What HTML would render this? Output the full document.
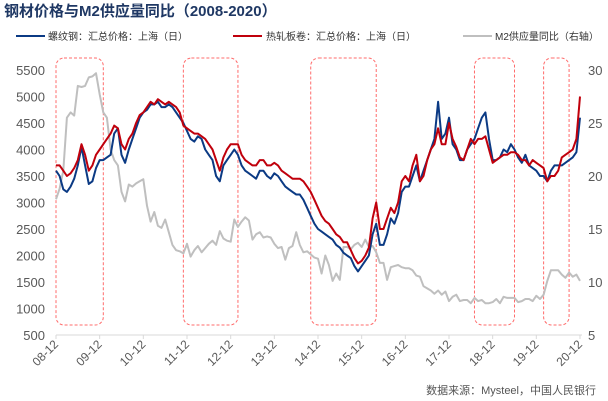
<!DOCTYPE html>
<html><head><meta charset="utf-8">
<style>
body{margin:0;background:#fff;}
svg{display:block;font-family:"Liberation Sans","Noto Sans CJK SC",sans-serif;}
</style></head>
<body>
<svg id="chart" width="608" height="401" viewBox="0 0 608 401">
<text x="4" y="16" font-size="15" font-weight="bold" fill="#1f3864">钢材价格与M2供应量同比（2008-2020）</text>
<g font-size="10" fill="#333">
<g><line x1="16" y1="36" x2="45" y2="36" stroke="#0b3a84" stroke-width="2"/><text x="48" y="40">螺纹钢：汇总价格：上海（日）</text></g>
<g><line x1="233" y1="36" x2="262" y2="36" stroke="#c0000c" stroke-width="2"/><text x="266" y="40">热轧板卷：汇总价格：上海（日）</text></g>
<g><line x1="463" y1="36" x2="492" y2="36" stroke="#bfbfbf" stroke-width="2"/><text x="495" y="40">M2供应量同比（右轴）</text></g>
</g>
<g id="boxes"></g>
<g id="axes"></g>
<g id="series"></g>
<text x="596" y="394" font-size="11" fill="#555" text-anchor="end">数据来源：Mysteel，中国人民银行</text>
</svg>
<script>
const xLabels=["08-12","09-12","10-12","11-12","12-12","13-12","14-12","15-12","16-12","17-12","18-12","19-12","20-12"];
const leftTicks=[500,1000,1500,2000,2500,3000,3500,4000,4500,5000,5500];
const rightTicks=[5,10,15,20,25,30];
const rebar=[3600,
3500,3250,3200,3300,3450,3700,4050,3700,3350,3400,3650,3800,
3800,3850,3900,4300,4400,3900,3750,4000,4200,4400,4600,4700,
4750,4850,4850,4900,4800,4800,4850,4800,4700,4600,4500,4350,
4200,4150,4250,4200,4000,3900,3800,3500,3400,3700,3800,3900,
4000,3900,3700,3600,3550,3500,3450,3600,3600,3500,3450,3550,
3500,3400,3300,3250,3200,3150,3150,3050,2900,2750,2600,2500,
2450,2400,2350,2300,2200,2150,2050,2000,1950,1800,1700,1800,
1900,2000,2400,2600,2200,2200,2400,2700,2600,2800,3200,3300,
3300,3500,3700,3400,3600,3800,4000,4200,4900,4200,4300,4600,
4100,4000,3800,3800,4000,4100,4200,4400,4600,4700,4200,3800,
3800,3850,4000,3950,4100,4000,3850,3750,3900,3700,3650,3600,
3500,3500,3400,3600,3700,3700,3700,3750,3800,3850,3950,4600];
const hrc=[3700,
3700,3600,3500,3550,3650,3800,4100,3900,3600,3700,3900,4000,
4100,4200,4300,4450,4400,4100,4000,4200,4300,4500,4650,4700,
4800,4900,4850,4950,4900,4850,4900,4850,4800,4700,4450,4400,
4350,4300,4300,4250,4200,4100,4000,3800,3600,3850,4000,4100,
4100,4100,3900,3800,3750,3700,3700,3800,3800,3700,3700,3750,
3700,3600,3550,3500,3450,3450,3450,3400,3300,3200,3050,2900,
2750,2650,2600,2500,2400,2350,2250,2250,2100,1950,1850,1900,
2000,2150,2700,3000,2500,2500,2700,2900,2800,3000,3400,3500,
3400,3700,3900,3400,3500,3800,4000,4100,4400,4100,4100,4500,
4200,4050,3850,3800,4000,4200,4100,4200,4200,4250,4000,3750,
3800,3850,3900,3900,3950,3950,3900,3800,3800,3700,3800,3750,
3700,3650,3400,3500,3500,3600,3850,3900,3950,4000,4200,5000];
const m2=[17.8,
18.8,20.5,25.5,26,25.7,28.5,28.4,28.5,29.3,29.4,29.7,27.7,
26,25.5,22.5,21.5,21,18.5,17.6,19.2,19,19.3,19.5,19.7,
17.2,15.7,16.6,15.3,15.1,15.9,14.7,13.5,13,12.9,12.7,13.6,
12.4,13,13.4,12.8,13.2,13.6,13.9,13.5,14.8,14.1,13.9,13.8,
15.9,15.2,15.7,16.1,15.8,14,14.5,14.7,14.2,14.3,14.2,13.6,
13.2,13.3,12.1,13.2,13.4,14.7,13.5,12.8,12.9,12.6,12.3,12.2,
10.8,12.5,11.6,10.1,10.8,10.2,13.3,13.3,13.1,13.5,13.7,13.3,
14,13.3,13.4,12.8,11.8,11.8,10.2,11.4,11.5,11.6,11.4,11.3,
11.3,11.1,10.6,10.5,9.6,9.4,9.2,8.9,9.2,8.8,9.1,8.2,
8.6,8.8,8.2,8.3,8.3,8,8.5,8.2,8.3,8,8,8.1,
8.4,8,8.6,8.5,8.5,8.5,8.1,8.2,8.4,8.4,8.2,8.7,
8.4,8.8,10.1,11.1,11.1,11.1,10.7,10.4,10.9,10.5,10.7,10.1];
// highlight periods in month index from 2008-12: [start,end]
const highlightPeriods=[[0,13],[35,50],[70,88],[115,126],[134,141]];

const NS="http://www.w3.org/2000/svg";
const X0=56,X1=580,Y0=335,Y1=70;
const nMonths=144;
function xs(i){return X0+(X1-X0)*i/nMonths;}
function yl(v){return Y0-(v-500)/5000*(Y0-Y1);}
function yr(v){return Y0-(v-5)/25*(Y0-Y1);}
function mk(tag,attrs,parent){const e=document.createElementNS(NS,tag);for(const k in attrs)e.setAttribute(k,attrs[k]);parent.appendChild(e);return e;}
const axes=document.getElementById('axes'),series=document.getElementById('series'),boxes=document.getElementById('boxes');

highlightPeriods.forEach((p,k)=>{
  const r=mk('rect',{x:xs(p[0]),y:58,width:xs(p[1])-xs(p[0]),height:267,rx:8,fill:'none',stroke:'#ff6b6b','stroke-width':1,'stroke-dasharray':'3,2'},boxes);
  
  
});

const xl=mk('line',{x1:X0,y1:Y0,x2:X1+2,y2:Y0,stroke:'#d9d9d9','stroke-width':1},axes);


xLabels.forEach((t,k)=>{
  const x=xs(k*12);
  mk('line',{x1:x,y1:Y0,x2:x,y2:Y0+4,stroke:'#d9d9d9'},axes);
  const tx=mk('text',{x:x+3,y:Y0+10,'font-size':12,fill:'#595959','text-anchor':'end',transform:`rotate(-45 ${x+3} ${Y0+10})`},axes);
  tx.textContent=t;
  
  
});
leftTicks.forEach(v=>{
  const tx=mk('text',{x:45,y:yl(v)+5,'font-size':13,fill:'#595959','text-anchor':'end'},axes);
  tx.textContent=v;
  
  
});
rightTicks.forEach(v=>{
  const tx=mk('text',{x:588,y:yr(v)+5,'font-size':13,fill:'#595959'},axes);
  tx.textContent=v;
  
  
});
function path(arr,yf,color,w,name){
  const d=arr.map((v,i)=>(i?'L':'M')+xs(i).toFixed(1)+','+yf(v).toFixed(1)).join('');
  const p=mk('path',{d:d,fill:'none',stroke:color,'stroke-width':w,'stroke-linejoin':'round'},series);
  
  
}
path(m2,yr,'#bfbfbf',2,'m2-line');
path(rebar,yl,'#0b3a84',2,'rebar-line');
path(hrc,yl,'#c0000c',2,'hrc-line');
</script>
</body></html>
